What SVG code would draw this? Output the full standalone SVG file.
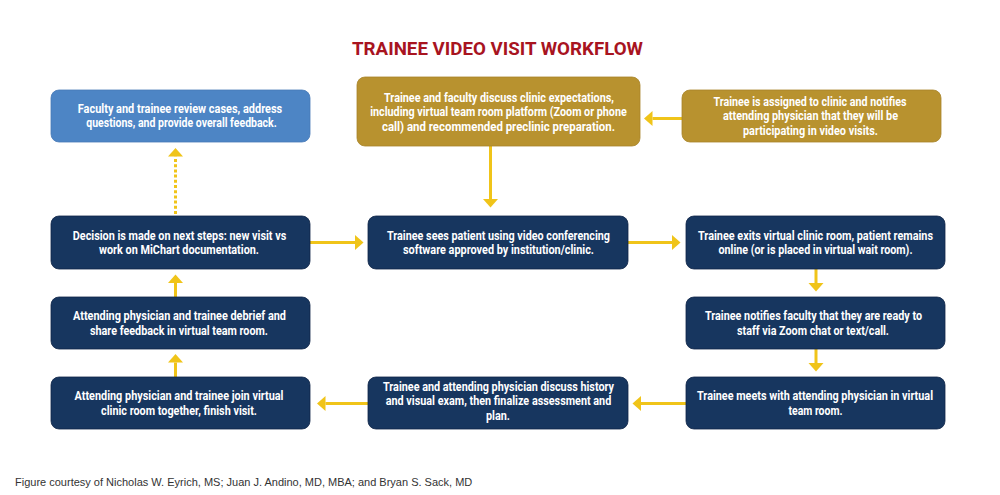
<svg xmlns="http://www.w3.org/2000/svg" width="1000" height="495" viewBox="0 0 1000 495">
<style>
.nv{fill:#17365f;stroke:#0f2447;stroke-width:0.8}
.gd{fill:#b8922f;stroke:#a8842a;stroke-width:0.8}
.bl{fill:#4d85c5;stroke:#4679b6;stroke-width:0.8}
.t{font-family:Roboto,"DejaVu Sans Condensed","Liberation Sans",sans-serif;font-weight:bold;font-size:13px;fill:#ffffff;text-anchor:middle}
.c{stroke:#f0c419;stroke-width:3;fill:none;marker-end:url(#ah)}
.d{stroke-dasharray:3 2.2}
.title{font-family:Roboto,"DejaVu Sans Condensed","Liberation Sans",sans-serif;font-weight:bold;font-size:19px;fill:#a8141f;text-anchor:middle}
.foot{font-family:"Liberation Sans",Arial,sans-serif;font-size:11px;fill:#333333}
</style>
<defs>
<marker id="ah" markerUnits="userSpaceOnUse" markerWidth="9" markerHeight="16" refX="0" refY="7.5" orient="auto" viewBox="0 0 9 16">
<path d="M0,0 L8.5,7.5 L0,15 z" fill="#f0c419"/>
</marker>
</defs>
<rect width="1000" height="495" fill="#ffffff"/>
<text class="title" x="497.5" y="55" textLength="291" lengthAdjust="spacingAndGlyphs">TRAINEE VIDEO VISIT WORKFLOW</text>

<g id="connectors">
<line class="c" x1="682" y1="118.5" x2="652.5" y2="118.5"/>
<line class="c" x1="490.5" y1="146" x2="490.5" y2="199"/>
<line class="c" x1="310" y1="242.5" x2="355" y2="242.5"/>
<line class="c" x1="628" y1="242.5" x2="672" y2="242.5"/>
<line class="c" x1="816" y1="269" x2="816" y2="283"/>
<line class="c" x1="816" y1="349" x2="816" y2="363"/>
<line class="c" x1="686" y1="403.5" x2="641" y2="403.5"/>
<line class="c" x1="368" y1="403.5" x2="325.5" y2="403.5"/>
<line class="c" x1="175.5" y1="377" x2="175.5" y2="362.5"/>
<line class="c" x1="175.5" y1="297" x2="175.5" y2="283"/>
<line class="c d" x1="175.5" y1="214" x2="175.5" y2="156.5"/>
</g>

<g id="n-review">
<rect class="bl" x="51" y="90" width="259" height="52" rx="8"/>
<text class="t" x="180" y="112.5" textLength="204.5" lengthAdjust="spacingAndGlyphs">Faculty and trainee review cases, address</text>
<text class="t" x="181.5" y="127" textLength="190.5" lengthAdjust="spacingAndGlyphs">questions, and provide overall feedback.</text>
</g>

<g id="n-discuss">
<rect class="gd" x="357" y="77" width="283" height="69" rx="8"/>
<text class="t" x="499" y="101.5" textLength="230" lengthAdjust="spacingAndGlyphs">Trainee and faculty discuss clinic expectations,</text>
<text class="t" x="498.5" y="116" textLength="256.5" lengthAdjust="spacingAndGlyphs">including virtual team room platform (Zoom or phone</text>
<text class="t" x="498.5" y="130.5" textLength="233" lengthAdjust="spacingAndGlyphs">call) and recommended preclinic preparation.</text>
</g>

<g id="n-assigned">
<rect class="gd" x="682" y="90" width="259" height="52" rx="8"/>
<text class="t" x="810" y="105.5" textLength="193" lengthAdjust="spacingAndGlyphs">Trainee is assigned to clinic and notifies</text>
<text class="t" x="810.5" y="120" textLength="175" lengthAdjust="spacingAndGlyphs">attending physician that they will be</text>
<text class="t" x="810.5" y="134.5" textLength="135" lengthAdjust="spacingAndGlyphs">participating in video visits.</text>
</g>

<g id="n-decision">
<rect class="nv" x="51" y="216" width="259" height="53" rx="8"/>
<text class="t" x="179.5" y="239.5" textLength="213.5" lengthAdjust="spacingAndGlyphs">Decision is made on next steps: new visit vs</text>
<text class="t" x="179" y="254" textLength="160" lengthAdjust="spacingAndGlyphs">work on MiChart documentation.</text>
</g>

<g id="n-sees">
<rect class="nv" x="368" y="216" width="260" height="53" rx="8"/>
<text class="t" x="498.5" y="239.5" textLength="223" lengthAdjust="spacingAndGlyphs">Trainee sees patient using video conferencing</text>
<text class="t" x="498.5" y="254" textLength="191" lengthAdjust="spacingAndGlyphs">software approved by institution/clinic.</text>
</g>

<g id="n-exits">
<rect class="nv" x="686" y="216" width="259" height="53" rx="8"/>
<text class="t" x="815.5" y="239.5" textLength="235" lengthAdjust="spacingAndGlyphs">Trainee exits virtual clinic room, patient remains</text>
<text class="t" x="815.5" y="254" textLength="194" lengthAdjust="spacingAndGlyphs">online (or is placed in virtual wait room).</text>
</g>

<g id="n-debrief">
<rect class="nv" x="51" y="297" width="259" height="52" rx="8"/>
<text class="t" x="179.5" y="320" textLength="213" lengthAdjust="spacingAndGlyphs">Attending physician and trainee debrief and</text>
<text class="t" x="179" y="334.5" textLength="178" lengthAdjust="spacingAndGlyphs">share feedback in virtual team room.</text>
</g>

<g id="n-notifies">
<rect class="nv" x="686" y="297" width="259" height="52" rx="8"/>
<text class="t" x="813.5" y="320" textLength="217" lengthAdjust="spacingAndGlyphs">Trainee notifies faculty that they are ready to</text>
<text class="t" x="813" y="334.5" textLength="152" lengthAdjust="spacingAndGlyphs">staff via Zoom chat or text/call.</text>
</g>

<g id="n-join">
<rect class="nv" x="51" y="377" width="259" height="52" rx="8"/>
<text class="t" x="179" y="400" textLength="209" lengthAdjust="spacingAndGlyphs">Attending physician and trainee join virtual</text>
<text class="t" x="179" y="414.5" textLength="156" lengthAdjust="spacingAndGlyphs">clinic room together, finish visit.</text>
</g>

<g id="n-history">
<rect class="nv" x="368" y="377" width="260" height="52" rx="8"/>
<text class="t" x="498.5" y="390.5" textLength="231" lengthAdjust="spacingAndGlyphs">Trainee and attending physician discuss history</text>
<text class="t" x="498.5" y="405" textLength="225.5" lengthAdjust="spacingAndGlyphs">and visual exam, then finalize assessment and</text>
<text class="t" x="498" y="419.5" textLength="24" lengthAdjust="spacingAndGlyphs">plan.</text>
</g>

<g id="n-meets">
<rect class="nv" x="686" y="377" width="259" height="52" rx="8"/>
<text class="t" x="815" y="400" textLength="236" lengthAdjust="spacingAndGlyphs">Trainee meets with attending physician in virtual</text>
<text class="t" x="815.5" y="414.5" textLength="54" lengthAdjust="spacingAndGlyphs">team room.</text>
</g>

<text class="foot" x="15" y="486">Figure courtesy of Nicholas W. Eyrich, MS; Juan J. Andino, MD, MBA; and Bryan S. Sack, MD</text>
</svg>
